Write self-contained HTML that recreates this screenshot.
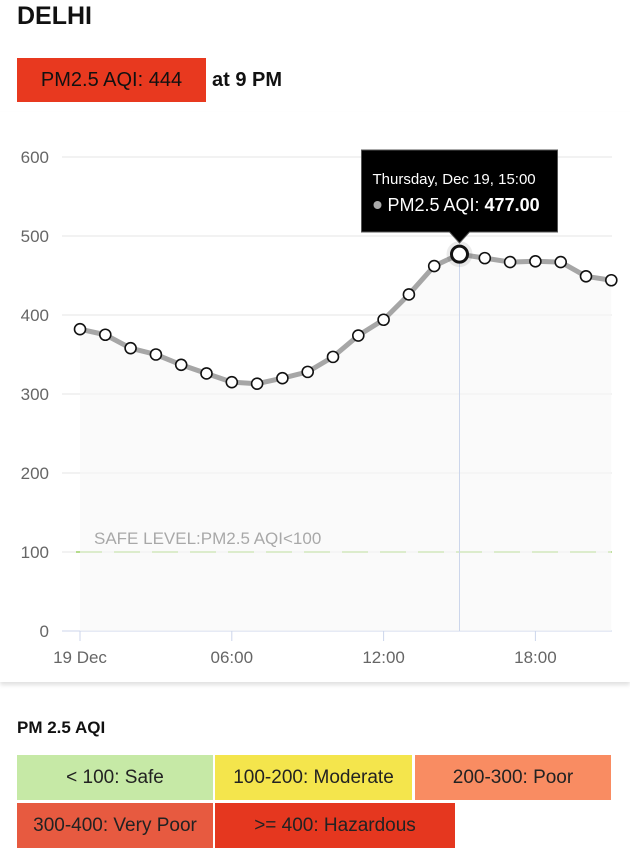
<!DOCTYPE html>
<html><head><meta charset="utf-8"><style>
body{margin:0;width:630px;height:850px;background:#fff;font-family:"Liberation Sans",sans-serif;position:relative;overflow:hidden}
.abs{position:absolute}
.box{position:absolute;height:45px;line-height:45px;text-align:center;font-size:19px;color:#222}
</style></head><body>
<div class="abs" style="left:17px;top:2px;font-size:25px;font-weight:bold;color:#111">DELHI</div>
<div class="abs" style="left:17px;top:58px;width:189px;height:44px;background:#e8391f;color:#111;font-size:20px;line-height:44px;text-align:center;font-weight:500">PM2.5 AQI: 444</div>
<div class="abs" style="left:212px;top:58px;line-height:44px;font-size:20px;font-weight:bold;color:#111">at 9 PM</div>
<div class="abs" style="left:0;top:112px;width:630px;height:570px;box-shadow:0 3px 4px rgba(0,0,0,0.12)"></div>
<svg class="abs" style="left:0;top:0" width="630" height="700" id="chart"></svg>
<div class="abs" style="left:17px;top:718px;font-size:17px;font-weight:bold;color:#111">PM 2.5 AQI</div>
<div class="box" style="left:17px;top:755px;width:196px;background:#c6e9a6">&lt; 100: Safe</div>
<div class="box" style="left:215px;top:755px;width:197px;background:#f4e54c">100-200: Moderate</div>
<div class="box" style="left:415px;top:755px;width:196px;background:#f98c62">200-300: Poor</div>
<div class="box" style="left:17px;top:803px;width:196px;background:#e75a40">300-400: Very Poor</div>
<div class="box" style="left:215px;top:803px;width:240px;background:#e5371f">&gt;= 400: Hazardous</div>
<script>
const hours=[0,1,2,3,4,5,6,7,8,9,10,11,12,13,14,15,16,17,18,19,20,21];
const values=[382,375,358,350,337,326,315,313,320,328,347,374,394,426,462,477,472,467,468,467,449,444];
const yTicks=[0,100,200,300,400,500,600];
const xTickHours=[0,6,12,18];
const xTickLabels=["19 Dec","06:00","12:00","18:00"];
const safeLevel=100;
const hoverIndex=15;
const NS="http://www.w3.org/2000/svg";
const svg=document.getElementById('chart');
const X=h=>80+h*25.3, Y=v=>631-v*0.79;
function mk(t,a,txt){const e=document.createElementNS(NS,t);for(const k in a)e.setAttribute(k,a[k]);if(txt!=null)e.textContent=txt;svg.appendChild(e);return e;}
yTicks.forEach(v=>{
 const l=mk('line',{x1:62,x2:612,y1:Y(v),y2:Y(v),stroke:v==0?'#ccd6eb':'#e6e6e6','stroke-width':1});
 
 const t=mk('text',{x:49,y:Y(v)+6,'text-anchor':'end','font-size':17,fill:'#666'},v);
 
});
xTickHours.forEach((h,i)=>{
 const l=mk('line',{x1:X(h),x2:X(h),y1:631,y2:641,stroke:'#ccd6eb'});
 
 const t=mk('text',{x:X(h),y:663,'text-anchor':'middle','font-size':17,fill:'#666'},xTickLabels[i]);
 
});
const sl=mk('line',{x1:76,x2:612,y1:Y(safeLevel),y2:Y(safeLevel),stroke:'#b5dc8c','stroke-width':2,'stroke-dasharray':'26,12'});

const st=mk('text',{x:94,y:Y(safeLevel)-8,'font-size':17,fill:'#333'},'SAFE LEVEL:PM2.5 AQI<100');

let area='M'+X(hours[0])+','+Y(0);hours.forEach((h,i)=>area+=' L'+X(h)+','+Y(values[i]));area+=' L'+X(hours[hours.length-1])+','+Y(0)+'Z';
const ar=mk('path',{d:area,fill:'#f7f7f7',opacity:0.6});

const ch=mk('line',{x1:X(hours[hoverIndex]),x2:X(hours[hoverIndex]),y1:Y(values[hoverIndex]),y2:631,stroke:'#ccd6eb'});

const pl=mk('polyline',{points:hours.map((h,i)=>X(h)+','+Y(values[i])).join(' '),fill:'none',stroke:'#a6a6a6','stroke-width':5,'stroke-linejoin':'round'});

hours.forEach((h,i)=>{
 const hv=i==hoverIndex;
 if(hv){const halo=mk('circle',{cx:X(h),cy:Y(values[i]),r:13,fill:'rgba(0,0,0,0.08)'});}
 const c=mk('circle',{cx:X(h),cy:Y(values[i]),r:hv?8:5.5,fill:'#fff',stroke:'#111','stroke-width':hv?3:1.6});
 
});
const tx=X(hours[hoverIndex]),ty=Y(values[hoverIndex]);
const tp=mk('path',{d:`M${tx-98},150 h196 v82 h-88 l-10,11 l-10,-11 h-88 Z`,fill:'#000',stroke:'#555','stroke-width':1});

const t1=mk('text',{x:tx-87,y:184,'font-size':15,fill:'#fff'},'Thursday, Dec 19, 15:00');

const dot=mk('circle',{cx:tx-82,cy:205,r:4,fill:'#aaa'});

const t2=mk('text',{x:tx-72,y:211,'font-size':18,fill:'#fff'});

t2.innerHTML='PM2.5 AQI: <tspan font-weight="bold">'+values[hoverIndex].toFixed(2)+'</tspan>';
</script>
</body></html>
